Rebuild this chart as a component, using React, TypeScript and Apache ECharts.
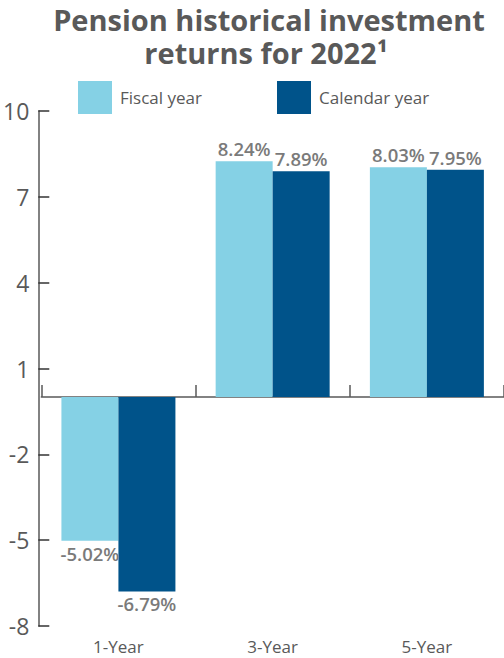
import React, { useEffect, useRef } from "react";
import * as echarts from "echarts";

const categories = ["1-Year", "3-Year", "5-Year"];
const fiscalYear = [-5.02, 8.24, 8.03];
const calendarYear = [-6.79, 7.89, 7.95];
const seriesNames = ["Fiscal year", "Calendar year"];
const titleLine1 = "Pension historical investment";
const titleLine2 = "returns for 2022¹";
const yMin = -8;
const yMax = 10;
const yInterval = 3;

const FONT = "Open Sans";
const GRAY = "#595959";
const LABEL_GRAY = "#7a7a7a";
const LIGHT = "#85d1e5";
const DARK = "#00538a";

function makeData(values: number[]) {
  return values.map((v) => ({
    value: v,
    label: { position: v >= 0 ? "top" : "bottom" },
  }));
}

export default function App() {
  const ref = useRef<HTMLDivElement>(null);
  useEffect(() => {
    document.body.style.margin = "0";
    const chart = echarts.init(ref.current!, null, { renderer: "svg" });
    const labelCfg = {
      show: true,
      distance: 3,
      color: LABEL_GRAY,
      fontFamily: FONT,
      fontSize: 18.5,
      fontWeight: 600,
      formatter: (p: any) => p.value.toFixed(2) + "%",
    };
    const titleStyle = {
      fontFamily: FONT,
      fontWeight: "bold",
      fontSize: 29,
      lineHeight: 32,
      color: GRAY,
    };
    const legendText = { fontFamily: FONT, fontSize: 17, color: GRAY, padding: [0, 0, 0, 3] };
    chart.setOption({
      animation: false,
      title: [
        { text: titleLine1, left: 269, top: 3, textAlign: "center", padding: 0, textStyle: titleStyle },
        { text: titleLine2, left: 266, top: 36, textAlign: "center", padding: 0, textStyle: titleStyle },
      ],
      legend: [
        {
          data: [seriesNames[0]],
          left: 78,
          top: 81,
          padding: 0,
          icon: "rect",
          itemWidth: 34,
          itemHeight: 33,
          textStyle: legendText,
        },
        {
          data: [seriesNames[1]],
          left: 277,
          top: 81,
          padding: 0,
          icon: "rect",
          itemWidth: 34,
          itemHeight: 33,
          textStyle: legendText,
        },
      ],
      grid: { left: 39, right: 0, top: 111, bottom: 32, containLabel: false },
      xAxis: [
        {
          type: "category",
          data: categories,
          position: "bottom",
          axisLine: { show: true, onZero: true, lineStyle: { color: GRAY, width: 1.5 } },
          axisTick: { show: true, inside: true, length: 12, lineStyle: { color: GRAY, width: 1.5 } },
          axisLabel: { show: false },
          splitLine: { show: false },
        },
        {
          type: "category",
          data: categories,
          position: "bottom",
          axisLine: { show: false, onZero: false },
          axisTick: { show: false },
          axisLabel: { show: true, margin: 12, fontFamily: FONT, fontSize: 17, color: GRAY },
          splitLine: { show: false },
        },
      ],
      yAxis: {
        type: "value",
        min: yMin,
        max: yMax,
        interval: yInterval,
        offset: 3,
        axisLine: { show: true, onZero: false, lineStyle: { color: GRAY, width: 1.5 } },
        axisTick: { show: true, inside: true, length: 11, lineStyle: { color: "#333", width: 1.5 } },
        axisLabel: { margin: 9, fontFamily: FONT, fontSize: 23, color: GRAY },
        splitLine: { show: false },
      },
      series: [
        {
          name: seriesNames[0],
          type: "bar",
          xAxisIndex: 0,
          data: makeData(fiscalYear),
          barWidth: 57,
          barGap: "0%",
          itemStyle: { color: LIGHT },
          label: labelCfg,
        },
        {
          name: seriesNames[1],
          type: "bar",
          xAxisIndex: 0,
          data: makeData(calendarYear),
          barWidth: 57,
          barGap: "0%",
          itemStyle: { color: DARK },
          label: labelCfg,
        },
      ],
    });
    return () => chart.dispose();
  }, []);
  return <div ref={ref} style={{ width: 504, height: 658 }} />;
}
